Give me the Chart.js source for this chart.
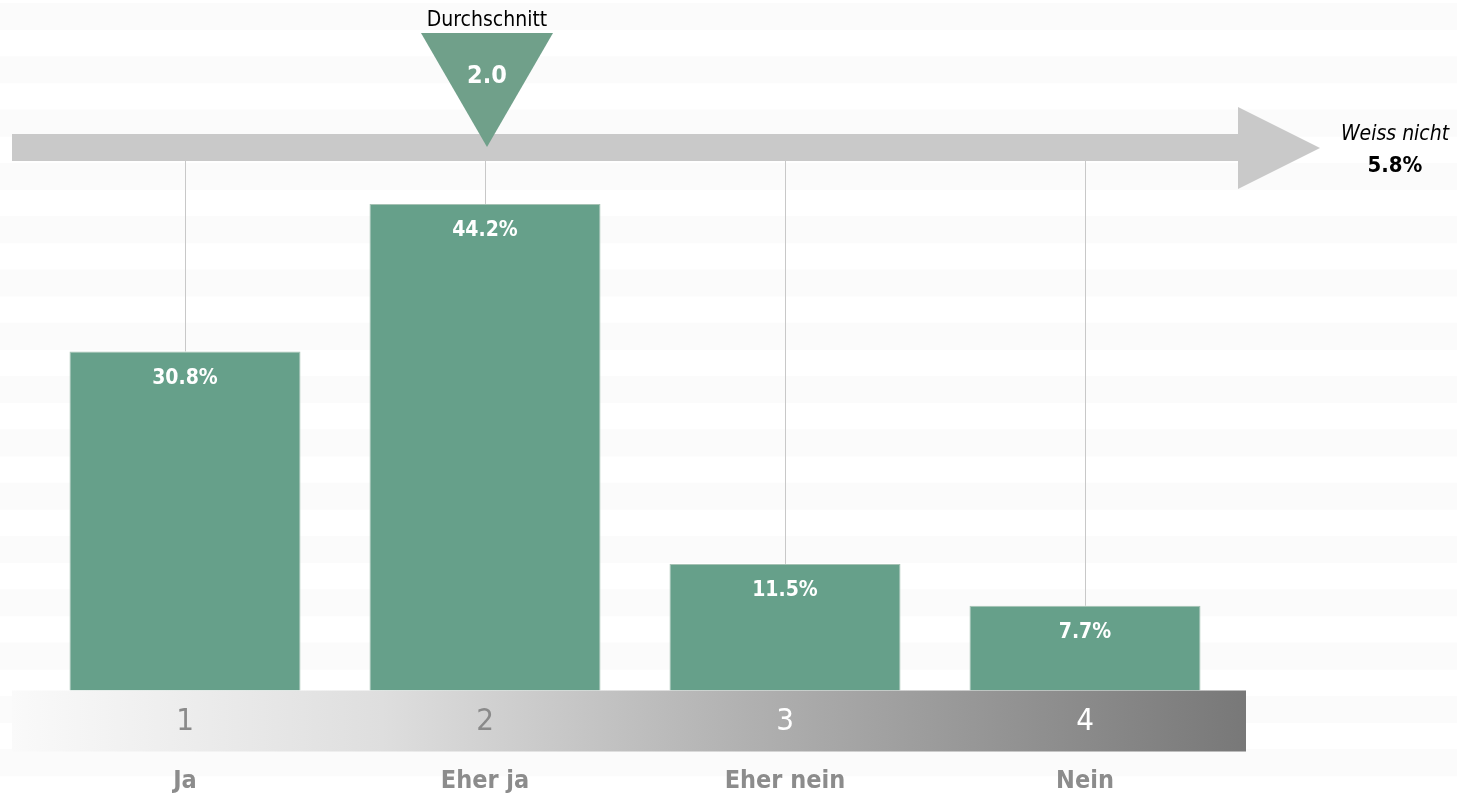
<!DOCTYPE html>
<html>
<head>
<meta charset="utf-8">
<script src="https://cdn.jsdelivr.net/npm/chart.js@4.4.1/dist/chart.umd.min.js"></script>
<style>
  html, body { margin: 0; padding: 0; background: #fff; }
  #wrap { width: 1457px; height: 797px; position: relative; }
</style>
</head>
<body>
<div id="wrap"><canvas id="chart"></canvas></div>
<script>
const scaleLabels = ['1', '2', '3', '4'];
const catLabels = ['Ja', 'Eher ja', 'Eher nein', 'Nein'];
const shares = [30.8, 44.2, 11.5, 7.7];
const avgScore = 2.0;
const dontKnowLabel = 'Weiss nicht';
const dontKnowShare = 5.8;

const FONT = '"Liberation Sans Narrow", "Arial Narrow", "DejaVu Sans Condensed", sans-serif';
const barColor = '#66a08a';

const decoPlugin = {
    id: 'deco',
    beforeDraw(chart) {
        const ctx = chart.ctx;
        const area = chart.chartArea;
        ctx.save();
        ctx.fillStyle = '#ffffff';
        ctx.fillRect(0, 0, chart.width, chart.height);
        // faint horizontal stripes
        ctx.fillStyle = '#fbfbfb';
        for (let y = 3; y < chart.height; y += 53.3) {
            ctx.fillRect(0, y, chart.width, 27);
        }
        // gradient scale band below the bars
        const bandL = 12, bandR = 1246;
        const g = ctx.createLinearGradient(bandL, 0, bandR, 0);
        g.addColorStop(0, '#fafafa');
        g.addColorStop(0.3, '#dedede');
        g.addColorStop(0.6, '#b0b0b0');
        g.addColorStop(1, '#787878');
        ctx.fillStyle = g;
        ctx.fillRect(bandL, area.bottom, bandR - bandL, 61);
        ctx.restore();
    },
    beforeDatasetsDraw(chart) {
        const ctx = chart.ctx;
        const x = chart.scales.x, y = chart.scales.y;
        ctx.save();
        ctx.strokeStyle = '#c8c8c8';
        ctx.lineWidth = 1;
        shares.forEach((v, i) => {
            const px = Math.round(x.getPixelForValue(i)) + 0.5;
            ctx.beginPath();
            ctx.moveTo(px, 161);
            ctx.lineTo(px, y.getPixelForValue(v));
            ctx.stroke();
        });
        ctx.restore();
    },
    afterDatasetsDraw(chart) {
        const ctx = chart.ctx;
        const x = chart.scales.x, y = chart.scales.y;
        ctx.save();
        // arrow
        ctx.fillStyle = '#c9c9c9';
        ctx.beginPath();
        ctx.moveTo(12, 134);
        ctx.lineTo(1238, 134);
        ctx.lineTo(1238, 107);
        ctx.lineTo(1320, 148);
        ctx.lineTo(1238, 189);
        ctx.lineTo(1238, 161);
        ctx.lineTo(12, 161);
        ctx.closePath();
        ctx.fill();

        // average marker
        const ax = x.getPixelForValue(avgScore - 1) + 2;
        ctx.fillStyle = '#70a08a';
        ctx.beginPath();
        ctx.moveTo(ax - 66, 33);
        ctx.lineTo(ax + 66, 33);
        ctx.lineTo(ax, 147);
        ctx.closePath();
        ctx.fill();
        ctx.textAlign = 'center';
        ctx.textBaseline = 'middle';
        ctx.fillStyle = '#ffffff';
        ctx.font = 'bold 25px ' + FONT;
        ctx.fillText(avgScore.toFixed(1), ax, 76);
        ctx.fillStyle = '#000000';
        ctx.font = '21px ' + FONT;
        ctx.fillText('Durchschnitt', ax, 21);

        // don't know
        ctx.font = 'italic 21px ' + FONT;
        ctx.fillText(dontKnowLabel, 1395, 135);
        ctx.font = 'bold 22px ' + FONT;
        ctx.fillText(dontKnowShare.toFixed(1) + '%', 1395, 166);

        // bar values
        ctx.fillStyle = '#ffffff';
        ctx.font = 'bold 21px ' + FONT;
        const meta = chart.getDatasetMeta(0);
        meta.data.forEach((bar, i) => {
            ctx.fillText(shares[i].toFixed(1) + '%', bar.x, bar.y + 27);
        });
        ctx.restore();
    }
};

new Chart(document.getElementById('chart'), {
    type: 'bar',
    data: {
        labels: scaleLabels,
        datasets: [{
            data: shares,
            backgroundColor: barColor,
            borderColor: '#a6c2b4',
            borderWidth: 1,
            barPercentage: 0.77,
            categoryPercentage: 1
        }]
    },
    options: {
        responsive: true,
        maintainAspectRatio: false,
        animation: false,
        layout: { padding: { left: 35, right: 222, top: 30, bottom: -12 } },
        plugins: { legend: { display: false }, tooltip: { enabled: false } },
        scales: {
            y: { min: 0, max: 60, display: false },
            x: {
                grid: { display: false, drawTicks: false },
                border: { display: false },
                ticks: {
                    padding: 16,
                    font: { family: FONT, size: 31, lineHeight: 1 },
                    color: ctx => ctx.index < 2 ? '#8a8a8a' : '#ffffff'
                }
            },
            x2: {
                type: 'category',
                position: 'bottom',
                labels: catLabels,
                grid: { display: false, drawTicks: false },
                border: { display: false },
                ticks: {
                    padding: 19,
                    font: { family: FONT, size: 25, weight: 'bold', lineHeight: 0.7 },
                    color: '#8c8c8c'
                }
            }
        }
    },
    plugins: [decoPlugin]
});
</script>
</body>
</html>
